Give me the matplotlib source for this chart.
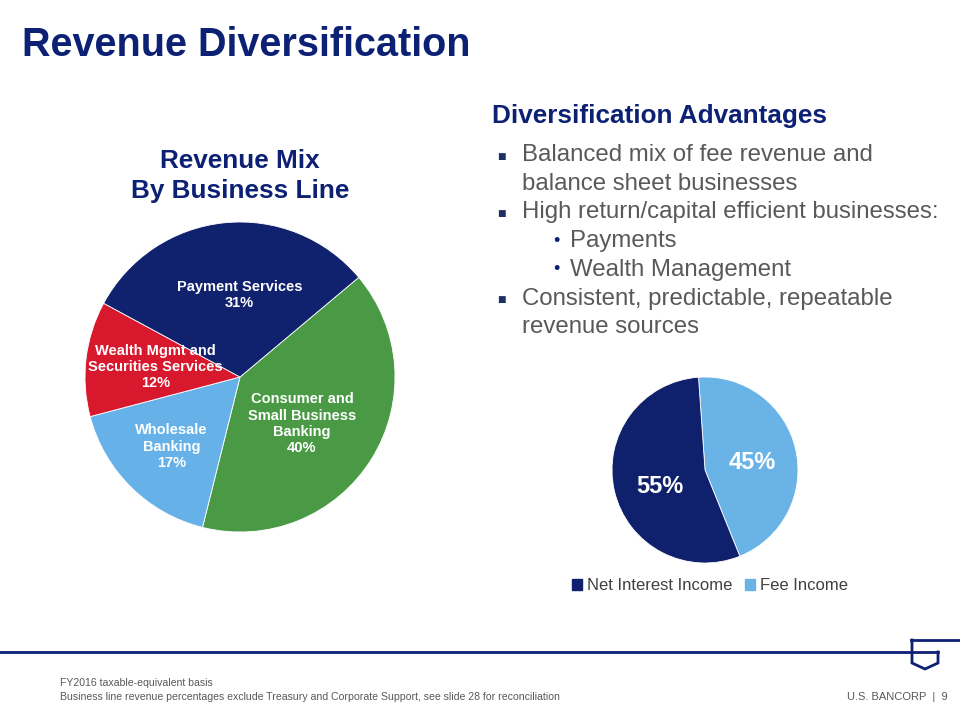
import numpy as np
import matplotlib
matplotlib.use("Agg")
import matplotlib.pyplot as plt
from matplotlib.patches import Patch
from matplotlib.lines import Line2D

plt.rcParams['font.family'] = ['Liberation Sans', 'DejaVu Sans']

# data
mix_labels = ["Consumer and\nSmall Business\nBanking", "Wholesale\nBanking",
              "Wealth Mgmt and\nSecurities Services", "Payment Services"]
mix_values = [40, 17, 12, 31]
mix_colors = ["#4a9a45", "#66b2e8", "#d8182d", "#10216e"]
# label placement: radial fraction and angle shift (deg) from wedge middle
mix_label_r = [0.50, 0.63, 0.55, 0.53]
mix_label_shift = [-5, 0, 0, -5.5]

inc_labels = ["Fee Income", "Net Interest Income"]
inc_values = [45, 55]
inc_colors = ["#69b3e7", "#0f206c"]
inc_label_shift = [-4, 7]

bullets = [
    (0, "Balanced mix of fee revenue and"),
    (None, "balance sheet businesses"),
    (0, "High return/capital efficient businesses:"),
    (1, "Payments"),
    (1, "Wealth Management"),
    (0, "Consistent, predictable, repeatable"),
    (None, "revenue sources"),
]

NAVY = "#0c2074"
GRAY = "#595959"

fig = plt.figure(figsize=(9.6, 7.2), dpi=100)
W, H = 960, 720


def fx(x):
    return x / W


def fy(y):
    return 1 - y / H


def pie_axes(cx, cy, r):
    ax = fig.add_axes([fx(cx - r), fy(cy + r), 2 * r / W, 2 * r / H])
    return ax


def place_labels(ax, wedges, texts, rs, shifts, **kw):
    for w, t, r, s in zip(wedges, texts, rs, shifts):
        ang = np.deg2rad((w.theta1 + w.theta2) / 2 + s)
        ax.text(r * np.cos(ang), r * np.sin(ang), t, ha="center", va="center",
                color="white", fontweight="bold", linespacing=1.2, **kw)


# title
fig.text(fx(22), fy(45), "Revenue Diversification", fontsize=28.5, fontweight="bold",
         color=NAVY, ha="left", va="center")

# left pie
fig.text(fx(240), fy(176), "Revenue Mix\nBy Business Line", fontsize=18.8, fontweight="bold",
         color=NAVY, ha="center", va="center", linespacing=1.32)
ax1 = pie_axes(240, 377, 155)
wedges1, _ = ax1.pie(mix_values, colors=mix_colors, startangle=40, counterclock=False,
                     wedgeprops=dict(linewidth=0.6, edgecolor="white"))
ax1.set_xlim(-1, 1)
ax1.set_ylim(-1, 1)
mix_texts = [f"{l}\n{v}%" for l, v in zip(mix_labels, mix_values)]
place_labels(ax1, wedges1, mix_texts, mix_label_r, mix_label_shift, fontsize=10.5)

# right side text
fig.text(fx(492), fy(116), "Diversification Advantages", fontsize=18.8, fontweight="bold",
         color=NAVY, ha="left", va="center")
y0, dy = 155, 28.7
for i, (lvl, txt) in enumerate(bullets):
    y = y0 + i * dy
    if lvl == 1:
        fig.text(fx(553), fy(y), "\u2022", fontsize=13, color=NAVY, ha="left", va="center")
        fig.text(fx(570), fy(y), txt, fontsize=17.3, color=GRAY, ha="left", va="center")
    else:
        if lvl == 0:
            fig.text(fx(497), fy(y + 1), "\u25a0", fontsize=6.5, color="#1f2f66",
                     family="DejaVu Sans", ha="left", va="center")
        fig.text(fx(522), fy(y), txt, fontsize=17.3, color=GRAY, ha="left", va="center")

# right pie
ax2 = pie_axes(705, 470, 93)
wedges2, _ = ax2.pie(inc_values, colors=inc_colors, startangle=94, counterclock=False,
                     wedgeprops=dict(linewidth=0.6, edgecolor="white"))
ax2.set_xlim(-1, 1)
ax2.set_ylim(-1, 1)
place_labels(ax2, wedges2, [f"{v}%" for v in inc_values], [0.51, 0.52], inc_label_shift,
             fontsize=17)

handles = [Patch(color=inc_colors[1]), Patch(color=inc_colors[0])]
fig.legend(handles, [inc_labels[1], inc_labels[0]], loc="center",
           bbox_to_anchor=(fx(710), fy(586)), ncol=2, frameon=False, fontsize=12,
           handlelength=0.6, handleheight=0.6, handletextpad=0.3, columnspacing=0.8,
           labelcolor="#404040")

# footer line and logo
fig.add_artist(Line2D([0, fx(938)], [fy(652), fy(652)], color=NAVY, lw=2))
fig.add_artist(Line2D([fx(911), fx(960)], [fy(640), fy(640)], color=NAVY, lw=2))
fig.add_artist(Line2D([fx(912), fx(912), fx(925), fx(938), fx(938)],
                      [fy(640), fy(663), fy(669), fy(663), fy(652)],
                      color=NAVY, lw=2, solid_joinstyle="miter"))

fig.text(fx(60), fy(683), "FY2016 taxable-equivalent basis", fontsize=7.6, color=GRAY,
         ha="left", va="center")
fig.text(fx(60), fy(697),
         "Business line revenue percentages exclude Treasury and Corporate Support, see slide 28 for reconciliation",
         fontsize=7.6, color=GRAY, ha="left", va="center")
fig.text(fx(948), fy(697), "U.S. BANCORP  |  9", fontsize=8, color=GRAY,
         ha="right", va="center")

fig.savefig("out.png", dpi=100)
